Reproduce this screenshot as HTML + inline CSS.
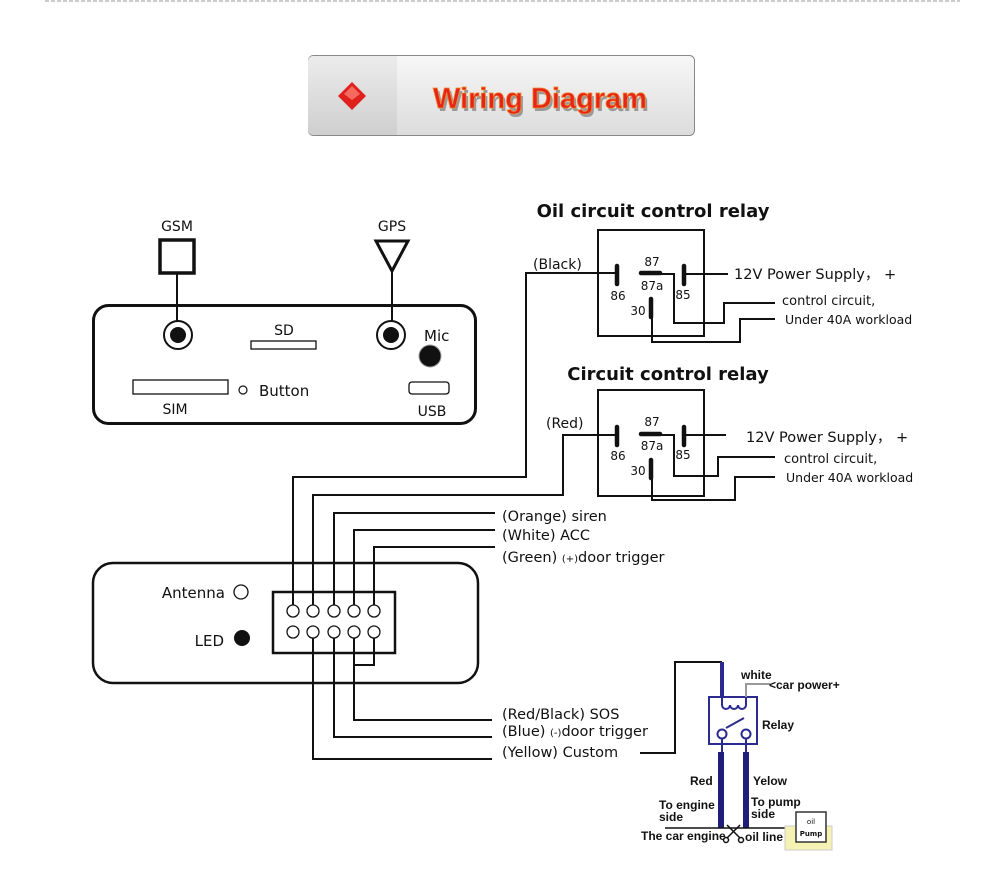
<!DOCTYPE html>
<html><head><meta charset="utf-8"><style>
html,body{margin:0;padding:0;background:#fff;}
svg{display:block;}
text{font-family:"DejaVu Sans","Liberation Sans",sans-serif;fill:#111;}
text.lib{font-family:"Liberation Sans",sans-serif;}
</style></head><body>
<svg width="1000" height="882" viewBox="0 0 1000 882" xmlns="http://www.w3.org/2000/svg">
<defs>
<linearGradient id="hg" x1="0" y1="0" x2="0" y2="1"><stop offset="0" stop-color="#f7f7f7"/><stop offset="1" stop-color="#dcdcdc"/></linearGradient>
<linearGradient id="hg2" x1="0" y1="0" x2="0" y2="1"><stop offset="0" stop-color="#ececec"/><stop offset="1" stop-color="#cfcfcf"/></linearGradient>
</defs>
<line x1="45" y1="1" x2="960" y2="1" stroke="#ccc" stroke-width="2" stroke-dasharray="4,2"/>
<!-- header -->
<rect x="308.5" y="55.5" width="386" height="80" rx="5" fill="url(#hg)" stroke="#888"/>
<path d="M313 56 h84 v79 h-84 a5 5 0 0 1 -5 -5 v-69 a5 5 0 0 1 5 -5z" fill="url(#hg2)"/>
<polygon points="352,82 366,96 352,110 338,96" fill="#e0201c"/>
<polygon points="352,86 360,94 352,100 344,94" fill="#f46a60"/>
<text class="lib" x="540" y="108" text-anchor="middle" font-weight="bold" font-size="29" style="fill:#999" transform="translate(2,3)">Wiring Diagram</text>
<text class="lib" x="540" y="108" text-anchor="middle" font-weight="bold" font-size="29" style="fill:#e5241a;stroke:#f08a30;stroke-width:0.8">Wiring Diagram</text>

<g fill="none" stroke="#111" stroke-width="2">
<!-- top device -->
<rect x="93.5" y="305.5" width="382" height="118" rx="15" stroke-width="3"/>
<rect x="160" y="240" width="34" height="33" stroke-width="3.5"/>
<line x1="177" y1="273" x2="177" y2="322"/>
<polygon points="376,241 408,241 392,271" stroke-width="3"/>
<line x1="392" y1="271" x2="392" y2="322"/>
<circle cx="178" cy="335" r="14"/>
<circle cx="391" cy="335" r="14"/>
<rect x="251" y="341" width="65" height="8" stroke-width="1.3"/>
<rect x="133" y="380" width="95" height="14" stroke-width="1.3"/>
<circle cx="243" cy="390" r="4" stroke-width="1.2"/>
<rect x="409" y="382" width="40" height="12" rx="3" stroke-width="1.3"/>
<!-- bottom device -->
<rect x="93" y="563" width="385" height="120" rx="20" stroke-width="2.5"/>
<rect x="273" y="592" width="122" height="61" stroke-width="2.5"/>
<circle cx="241" cy="592" r="7" stroke-width="1.3"/>
</g>
<g fill="#fff" stroke="#111" stroke-width="1.3">
<circle cx="293" cy="611" r="6"/><circle cx="313" cy="611" r="6"/><circle cx="334" cy="611" r="6"/><circle cx="354" cy="611" r="6"/><circle cx="374" cy="611" r="6"/>
<circle cx="293" cy="632" r="6"/><circle cx="313" cy="632" r="6"/><circle cx="334" cy="632" r="6"/><circle cx="354" cy="632" r="6"/><circle cx="374" cy="632" r="6"/>
</g>
<circle cx="178" cy="335" r="8" fill="#111"/>
<circle cx="391" cy="335" r="8" fill="#111"/>
<circle cx="430" cy="356" r="11" fill="#111" stroke="#999" stroke-width="1"/>
<circle cx="242" cy="638" r="8" fill="#111"/>

<text x="177" y="231" font-size="14" text-anchor="middle">GSM</text>
<text x="392" y="231" font-size="14" text-anchor="middle">GPS</text>
<text x="284" y="335" font-size="14" text-anchor="middle">SD</text>
<text x="424" y="341" font-size="15">Mic</text>
<text x="175" y="414" font-size="14" text-anchor="middle">SIM</text>
<text x="259" y="396" font-size="15">Button</text>
<text x="432" y="416" font-size="14" text-anchor="middle">USB</text>
<text x="225" y="598" font-size="15" text-anchor="end">Antenna</text>
<text x="224" y="646" font-size="15" text-anchor="end">LED</text>

<!-- wires -->
<g fill="none" stroke="#111" stroke-width="2">
<polyline points="293,605 293,477 526,477 526,273 617,273"/>
<polyline points="313,605 313,495 563,495 563,435 617,435"/>
<polyline points="334,605 334,513 495,513"/>
<polyline points="354,605 354,530 495,530"/>
<polyline points="374,605 374,547 495,547"/>
<polyline points="374,638 374,665 354,665"/>
<polyline points="354,638 354,720 492,720"/>
<polyline points="334,638 334,737 492,737"/>
<polyline points="313,638 313,759 492,759"/>
<polyline points="640,753 675,753 675,662 722,662"/>
<!-- relay 1 -->
<rect x="598" y="230" width="106" height="106"/>
<line x1="684" y1="274" x2="728" y2="274"/>
<polyline points="660,274 674,274 674,323 724,323 724,303 775,303"/>
<polyline points="652,318 652,342 740,342 740,319 775,319"/>
<!-- relay 2 -->
<rect x="598" y="390" width="106" height="106"/>
<line x1="684" y1="435" x2="726" y2="435"/>
<polyline points="660,435 674,435 674,476 718,476 718,457 775,457"/>
<polyline points="652,478 652,500 735,500 735,477 775,477"/>
</g>
<g stroke="#111" stroke-width="4.5" stroke-linecap="round">
<line x1="617" y1="266" x2="617" y2="284"/><line x1="684" y1="266" x2="684" y2="284"/>
<line x1="641" y1="273" x2="660" y2="273"/><line x1="651" y1="299" x2="651" y2="317"/>
<line x1="617" y1="427" x2="617" y2="445"/><line x1="684" y1="427" x2="684" y2="445"/>
<line x1="641" y1="434" x2="660" y2="434"/><line x1="651" y1="460" x2="651" y2="478"/>
</g>
<g font-size="12" text-anchor="middle">
<text x="652" y="266">87</text><text x="652" y="290">87a</text><text x="618" y="300">86</text><text x="683" y="299">85</text><text x="638" y="315">30</text>
<text x="652" y="426">87</text><text x="652" y="450">87a</text><text x="618" y="460">86</text><text x="683" y="459">85</text><text x="638" y="475">30</text>
</g>
<text x="653" y="217" font-size="18" font-weight="bold" text-anchor="middle">Oil circuit control relay</text>
<text x="668" y="380" font-size="18" font-weight="bold" text-anchor="middle">Circuit control relay</text>
<text x="533" y="269" font-size="14">(Black)</text>
<text x="546" y="428" font-size="14">(Red)</text>
<g font-size="14.5"><text x="734" y="279">12V Power Supply， +</text><text x="746" y="442">12V Power Supply， +</text></g>
<g font-size="13"><text x="782" y="305">control circuit,</text><text x="784" y="463">control circuit,</text></g>
<g font-size="12.5"><text x="785" y="324">Under 40A workload</text><text x="786" y="482">Under 40A workload</text></g>
<g font-size="14.5">
<text x="502" y="521">(Orange) siren</text>
<text x="502" y="540">(White) ACC</text>
<text x="502" y="562">(Green) <tspan font-size="10">(+)</tspan>door trigger</text>
<text x="502" y="719">(Red/Black) SOS</text>
<text x="502" y="736">(Blue) <tspan font-size="10">(-)</tspan>door trigger</text>
<text x="502" y="757">(Yellow) Custom</text>
</g>
<!-- small relay -->
<g fill="none" stroke="#2b2b8f" stroke-width="2">
<rect x="709" y="697" width="48" height="47"/>
<path d="M722 697 v8 a4 4 0 0 0 8 0 a4 4 0 0 0 8 0 a4 4 0 0 0 8 0 v-8"/>
<line x1="726" y1="728" x2="744" y2="718"/>
<circle cx="722" cy="734" r="4.5" fill="#fff"/><circle cx="746" cy="734" r="4.5" fill="#fff"/>
<line x1="722" y1="739" x2="722" y2="752"/><line x1="746" y1="739" x2="746" y2="752"/>
</g>
<line x1="722" y1="662" x2="722" y2="697" stroke="#2b2b8f" stroke-width="4"/>
<polyline points="746,697 746,684 770,684" fill="none" stroke="#999" stroke-width="2"/>
<line x1="721" y1="752" x2="721" y2="828" stroke="#1f1f7a" stroke-width="6"/>
<line x1="746" y1="752" x2="746" y2="828" stroke="#1f1f7a" stroke-width="6"/>
<line x1="665" y1="828" x2="800" y2="828" stroke="#111" stroke-width="1.5"/>
<rect x="785" y="826" width="47" height="24" fill="#f5f2b4" stroke="#ccc"/>
<rect x="796" y="812" width="30" height="30" fill="#fff" stroke="#333" stroke-width="1.5"/>
<text x="811" y="824" font-size="7" text-anchor="middle">oil</text>
<text x="811" y="836" font-size="7" text-anchor="middle" font-weight="bold">Pump</text>
<!-- scissors -->
<g fill="none" stroke="#111" stroke-width="1.5">
<line x1="727" y1="825" x2="740" y2="838"/><line x1="740" y1="825" x2="727" y2="838"/>
<circle cx="726" cy="840" r="2.5"/><circle cx="741" cy="840" r="2.5"/>
</g>
<g class="lib" font-weight="bold" font-size="12">
<text class="lib" x="741" y="679" font-weight="bold" font-size="12">white</text>
<text class="lib" x="769" y="689" font-weight="bold" font-size="12">&lt;car power+</text>
<text class="lib" x="762" y="729" font-weight="bold" font-size="12">Relay</text>
<text class="lib" x="690" y="785" font-weight="bold" font-size="12">Red</text>
<text class="lib" x="753" y="785" font-weight="bold" font-size="12">Yelow</text>
<text class="lib" x="659" y="809" font-weight="bold" font-size="12">To engine</text><text class="lib" x="659" y="821" font-weight="bold" font-size="12">side</text>
<text class="lib" x="751" y="806" font-weight="bold" font-size="12">To pump</text><text class="lib" x="751" y="818" font-weight="bold" font-size="12">side</text>
<text class="lib" x="641" y="840" font-weight="bold" font-size="12">The car engine</text>
<text class="lib" x="745" y="841" font-weight="bold" font-size="12">oil line</text>
</g>
</svg>
</body></html>
